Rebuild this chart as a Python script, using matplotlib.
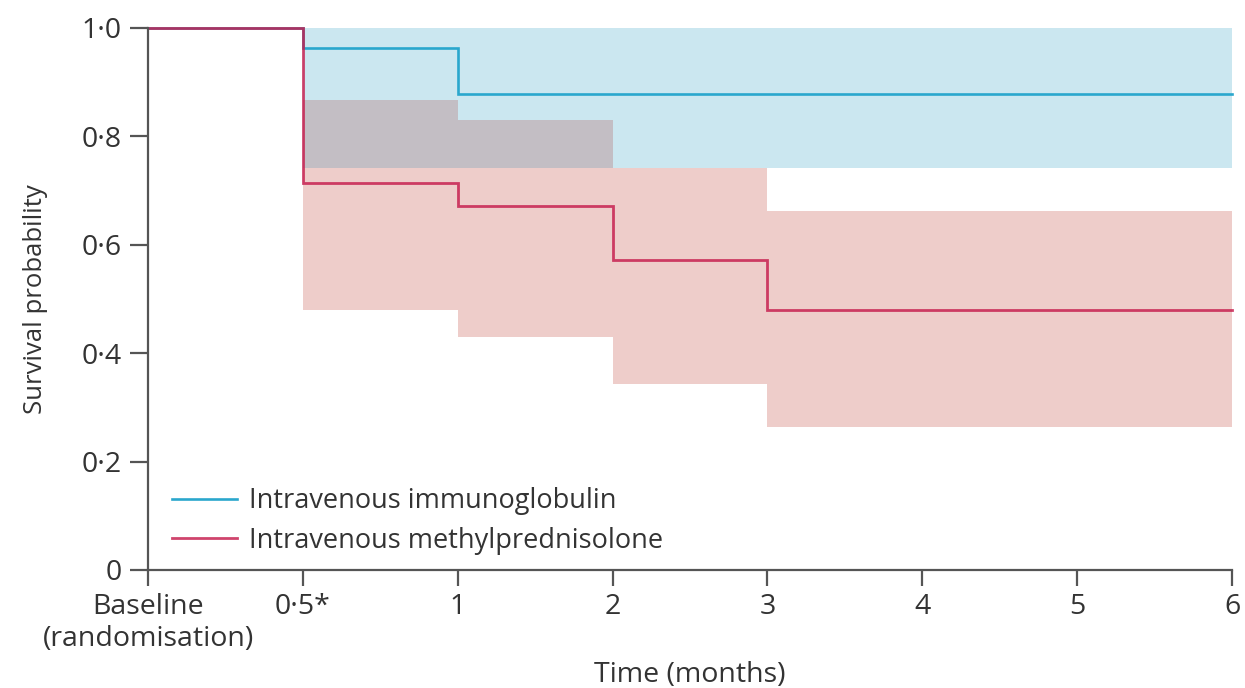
import matplotlib
matplotlib.use("Agg")
import matplotlib.pyplot as plt
import numpy as np

plt.rcParams['font.family'] = ['Open Sans', 'DejaVu Sans']

# Categorical time positions and labels
tick_labels = ["Baseline\n(randomisation)", "0·5*", "1", "2", "3", "4", "5", "6"]
tick_pos = list(range(len(tick_labels)))

# Kaplan-Meier step curves (x in tick-position units)
ivig_x = [0, 1, 2, 7]
ivig_s = [1.0, 0.963, 0.878, 0.878]
ivmp_x = [0, 1, 2, 3, 4, 7]
ivmp_s = [1.0, 0.714, 0.672, 0.572, 0.480, 0.480]

# Confidence bands
ci_x = [1, 2, 3, 4, 7]
ivig_lo = [0.742, 0.742, 0.742, 0.742, 0.742]
ivig_hi = [1.0, 1.0, 1.0, 1.0, 1.0]
ivmp_lo = [0.480, 0.430, 0.343, 0.264, 0.264]
ivmp_hi = [0.867, 0.830, 0.742, 0.662, 0.662]

yticks = [0, 0.2, 0.4, 0.6, 0.8, 1.0]
ytick_labels = ["0", "0·2", "0·4", "0·6", "0·8", "1·0"]

blue_line = "#2AA7CD"
blue_fill = "#CBE7F0"
red_line = "#C51B4C"
red_fill = "#EECDCA"
overlap_fill = "#C3BEC4"
axis_col = "#555555"
text_col = "#333333"

W, H = 1245, 688
fig = plt.figure(figsize=(W / 100, H / 100), dpi=100)
ax = fig.add_axes([148 / W, (H - 570) / H, (1232 - 148) / W, (570 - 28) / H])

ax.fill_between(ci_x, ivig_lo, ivig_hi, step="post", color=blue_fill, lw=0)
ax.fill_between(ci_x, ivmp_lo, ivmp_hi, step="post", color=red_fill, lw=0)
ov_lo = np.maximum(ivig_lo, ivmp_lo)
ov_hi = np.maximum(np.minimum(ivig_hi, ivmp_hi), ov_lo)
ax.fill_between(ci_x, ov_lo, ov_hi, step="post", color=overlap_fill, lw=0)

ax.plot(ivig_x, ivig_s, drawstyle="steps-post", color=blue_line, lw=1.9,
        label="Intravenous immunoglobulin", clip_on=False, solid_joinstyle="miter")
ax.plot(ivmp_x, ivmp_s, drawstyle="steps-post", color=red_line, lw=2.0, alpha=0.82,
        label="Intravenous methylprednisolone", clip_on=False, solid_joinstyle="miter")

ax.set_xlim(0, 7)
ax.set_ylim(0, 1)
ax.set_xticks(tick_pos)
ax.set_xticklabels(tick_labels)
ax.set_yticks(yticks)
ax.set_yticklabels(ytick_labels)

for s in ["top", "right"]:
    ax.spines[s].set_visible(False)
for s in ["left", "bottom"]:
    ax.spines[s].set_color(axis_col)
    ax.spines[s].set_linewidth(1.6)
ax.tick_params(axis="x", direction="out", length=11.5, width=1.6, color=axis_col,
               labelsize=20.5, labelcolor=text_col, pad=5)
ax.tick_params(axis="y", direction="out", length=13, width=1.6, color=axis_col,
               labelsize=20.5, labelcolor=text_col, pad=6)

ax.set_xlabel("Time (months)", fontsize=20.5, color=text_col, labelpad=6)
ax.set_ylabel("Survival probability", fontsize=18.5, color=text_col, labelpad=24)

leg = ax.legend(loc="lower left", bbox_to_anchor=(0.012, 0.008), frameon=False,
                fontsize=19.5, handlelength=2.4, handletextpad=0.45, labelspacing=0.42,
                labelcolor=text_col, borderaxespad=0)

fig.savefig("out.png", dpi=100)
